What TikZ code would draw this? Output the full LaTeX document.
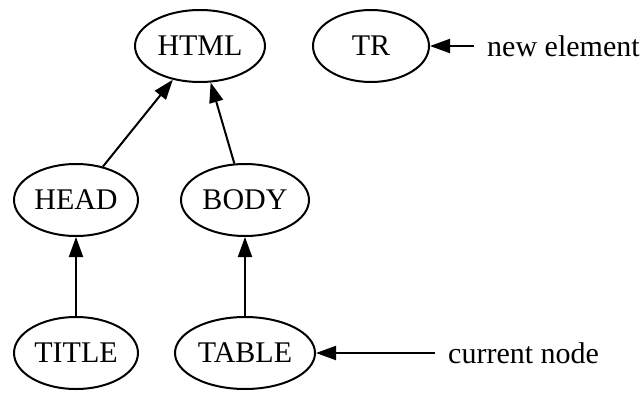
\documentclass[tikz,border=0pt]{standalone}
\usepackage{fontspec}
\setmainfont{Liberation Serif}
\usetikzlibrary{arrows.meta,shapes.geometric}
\begin{document}
\begin{tikzpicture}[x=1pt,y=-1pt,
  every node/.style={font=\fontsize{30}{32}\selectfont},
  elem/.style={draw,ellipse,line width=2pt,inner sep=0pt,minimum height=72pt},
  lbl/.style={inner xsep=13pt,inner ysep=0pt,anchor=west},
  conn/.style={line width=2pt,-{Triangle[length=20pt,width=14pt]}}]
\useasboundingbox (0,0) rectangle (643,394);
\node[elem,minimum width=130pt] (HTML) at (200,46) {HTML};
\node[elem,minimum width=116pt] (TR) at (371,46) {TR};
\node[elem,minimum width=124pt] (HEAD) at (76,200) {HEAD};
\node[elem,minimum width=128pt] (BODY) at (245,200) {BODY};
\node[elem,minimum width=124pt] (TITLE) at (76,353) {TITLE};
\node[elem,minimum width=140pt] (TABLE) at (245,353) {TABLE};
\node[lbl] (NE) at (474,46) {new element};
\node[lbl] (CN) at (435,353) {current node};
\draw[conn] (HEAD) -- (HTML);
\draw[conn] (BODY) -- (HTML);
\draw[conn] (TITLE) -- (HEAD);
\draw[conn] (TABLE) -- (BODY);
\draw[conn] (NE.west) -- (TR);
\draw[conn] (CN.west) -- (TABLE);
\end{tikzpicture}
\end{document}
